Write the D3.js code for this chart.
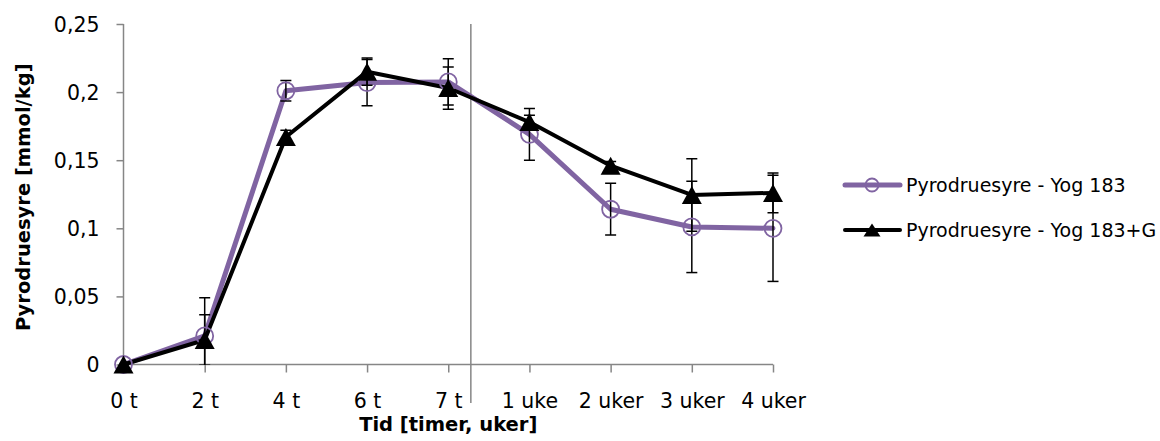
<!DOCTYPE html>
<html>
<head>
<meta charset="utf-8">
<script src="https://cdn.jsdelivr.net/npm/d3@7"></script>
<style>
  html, body { margin: 0; padding: 0; background: #fff; }
  svg { display: block; }
  text { font-family: "DejaVu Sans", sans-serif; fill: #000; }
</style>
</head>
<body>
<svg id="chart" width="1160" height="441"></svg>
<script>
const categories = ["0 t", "2 t", "4 t", "6 t", "7 t", "1 uke", "2 uker", "3 uker", "4 uker"];
const yog183 = [0, 0.021, 0.201, 0.207, 0.2075, 0.169, 0.114, 0.101, 0.100];
const yog183Err = [0, 0.028, 0.0075, 0.017, 0.017, 0.019, 0.019, 0.0335, 0.039];
const yog183G = [0, 0.018, 0.167, 0.215, 0.203, 0.178, 0.146, 0.1245, 0.126];
const yog183GErr = [0, 0.0185, 0.005, 0.01, 0.0155, 0.005, 0.003, 0.0266, 0.0146];
const yTicks = [0, 0.05, 0.1, 0.15, 0.2, 0.25];
const seriesNames = ["Pyrodruesyre - Yog 183", "Pyrodruesyre - Yog 183+G"];

const svg = d3.select("#chart");
const pLeft = 123.5, pRight = 773, pTop = 24, pBottom = 364.5;
const x = d3.scalePoint().domain(categories).range([pLeft, pRight]).padding(0);
const y = d3.scaleLinear().domain([0, 0.25]).range([pBottom, pTop]);
const gray = "#868686";
const purple = "#8064A2";
const fmt = v => String(v).replace(".", ",");

svg.append("defs").append("clipPath").attr("id", "plotclip")
  .append("rect").attr("x", pLeft - 20).attr("y", pTop).attr("width", pRight - pLeft + 40).attr("height", pBottom - pTop + 0.5);

// Y axis
const yAxis = svg.append("g").attr("transform", `translate(${pLeft},0)`)
  .call(d3.axisLeft(y).tickValues(yTicks).tickFormat(fmt).tickSize(7).tickPadding(17));
yAxis.select(".domain").attr("stroke", gray).attr("stroke-width", 1.5).attr("d", `M0,${pTop}V${pBottom}`);
yAxis.selectAll(".tick line").attr("stroke", gray).attr("stroke-width", 1.5);
yAxis.selectAll(".tick text").style("font-size", "20.5px").style("font-family", "DejaVu Sans").attr("fill", "#000").attr("dy", "0.36em");

// X axis
const xAxis = svg.append("g").attr("transform", `translate(0,${pBottom})`)
  .call(d3.axisBottom(x).tickSize(8).tickSizeOuter(0).tickPadding(25));
xAxis.select(".domain").attr("stroke", gray).attr("stroke-width", 1.5).attr("d", `M${pLeft},0H${pRight}`);
xAxis.selectAll(".tick line").attr("stroke", gray).attr("stroke-width", 1.5)
  .attr("display", (d, i) => i === 0 ? "none" : null);
xAxis.selectAll(".tick text").style("font-size", "20.5px").style("font-family", "DejaVu Sans").attr("fill", "#000").attr("dy", "0").attr("y", 43.5);

// Vertical separator line between hours and weeks
const sepX = (x("7 t") + x("1 uke")) / 2 - 18;
svg.append("line").attr("x1", sepX).attr("x2", sepX).attr("y1", pTop).attr("y2", 403)
  .attr("stroke", gray).attr("stroke-width", 1.5);

// Axis titles
svg.append("text").attr("x", (pLeft + pRight) / 2).attr("y", 431).attr("text-anchor", "middle")
  .style("font-size", "19.5px").style("font-weight", "bold").text("Tid [timer, uker]");
svg.append("text").attr("transform", `translate(30,${(pTop + pBottom) / 2 + 3}) rotate(-90)`).attr("text-anchor", "middle")
  .style("font-size", "19.5px").style("font-weight", "bold").text("Pyrodruesyre [mmol/kg]");

const s1 = categories.map((c, i) => ({c, v: yog183[i], e: yog183Err[i]}));
const s2 = categories.map((c, i) => ({c, v: yog183G[i], e: yog183GErr[i]}));
const line = d3.line().x(d => x(d.c)).y(d => y(d.v));

svg.append("path").datum(s1).attr("d", line).attr("fill", "none").attr("stroke", purple)
  .attr("stroke-width", 5).attr("stroke-linejoin", "round").attr("stroke-linecap", "round");
svg.append("path").datum(s2).attr("d", line).attr("fill", "none").attr("stroke", "#000")
  .attr("stroke-width", 4).attr("stroke-linejoin", "round").attr("stroke-linecap", "round");

// Error bars
const eg = svg.append("g").attr("clip-path", "url(#plotclip)");
[s1, s2].forEach(s => {
  s.filter(d => d.e > 0).forEach(d => {
    const cx = x(d.c), y1 = y(d.v + d.e), y0 = y(d.v - d.e);
    eg.append("line").attr("x1", cx).attr("x2", cx).attr("y1", y1).attr("y2", y0).attr("stroke", "#000").attr("stroke-width", 1.5);
    eg.append("line").attr("x1", cx - 5.5).attr("x2", cx + 5.5).attr("y1", y1).attr("y2", y1).attr("stroke", "#000").attr("stroke-width", 1.5);
    eg.append("line").attr("x1", cx - 5.5).attr("x2", cx + 5.5).attr("y1", y0).attr("y2", y0).attr("stroke", "#000").attr("stroke-width", 1.5);
  });
});

// Markers
svg.append("g").selectAll("circle").data(s1).join("circle")
  .attr("cx", d => x(d.c)).attr("cy", d => y(d.v)).attr("r", 8.5)
  .attr("fill", "none").attr("stroke", purple).attr("stroke-width", 1.8);
const tri = (cx, cy, w, h) => `M${cx},${cy - h / 2}L${cx + w / 2},${cy + h / 2}L${cx - w / 2},${cy + h / 2}Z`;
svg.append("g").selectAll("path").data(s2).join("path")
  .attr("d", d => tri(x(d.c), y(d.v), 20, 18)).attr("fill", "#000");

// Legend
const lg = svg.append("g");
const ly = [185, 230];
lg.append("line").attr("x1", 845).attr("x2", 900).attr("y1", ly[0]).attr("y2", ly[0]).attr("stroke", purple).attr("stroke-width", 5).attr("stroke-linecap", "round");
lg.append("circle").attr("cx", 872).attr("cy", ly[0]).attr("r", 6.5).attr("fill", "none").attr("stroke", purple).attr("stroke-width", 1.8);
lg.append("line").attr("x1", 845).attr("x2", 900).attr("y1", ly[1]).attr("y2", ly[1]).attr("stroke", "#000").attr("stroke-width", 4).attr("stroke-linecap", "round");
lg.append("path").attr("d", tri(872, ly[1], 17, 13)).attr("fill", "#000");
seriesNames.forEach((n, i) => {
  lg.append("text").attr("x", 906).attr("y", ly[i]).attr("dy", "0.36em").style("font-size", "19px").text(n);
});
</script>
</body>
</html>
